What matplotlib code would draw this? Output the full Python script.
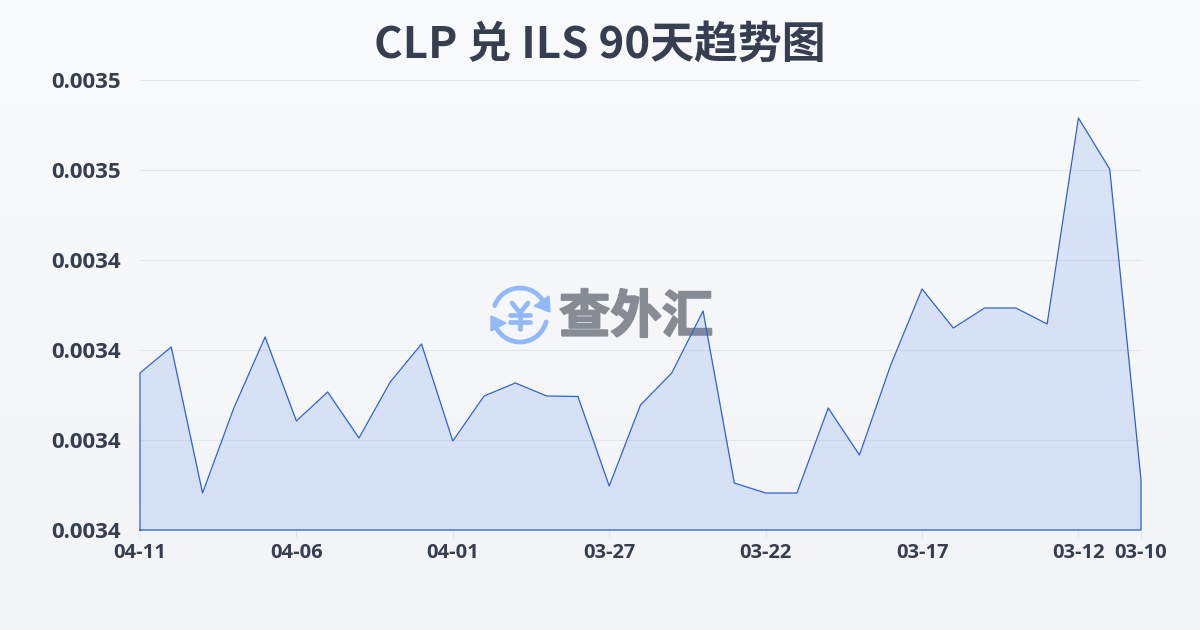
import matplotlib
matplotlib.use("Agg")
import matplotlib.pyplot as plt
import matplotlib.patheffects as pe
import numpy as np
from matplotlib.patches import Arc, Polygon

plt.rcParams["font.family"] = ["Noto Sans CJK SC", "DejaVu Sans"]

dates = ["04-11", "04-10", "04-09", "04-08", "04-07", "04-06", "04-05", "04-04", "04-03",
         "04-02", "04-01", "03-31", "03-30", "03-29", "03-28", "03-27", "03-26", "03-25",
         "03-24", "03-23", "03-22", "03-21", "03-20", "03-19", "03-18", "03-17", "03-16",
         "03-15", "03-14", "03-13", "03-12", "03-11", "03-10"]
rates = [0.00341489, 0.00342067, 0.00338822, 0.00340711, 0.00342289, 0.00340422, 0.00341067,
         0.00340044, 0.00341289, 0.00342133, 0.00339978, 0.00340978, 0.00341267, 0.00340978,
         0.00340967, 0.00338978, 0.00340778, 0.00341489, 0.00342867, 0.00339044, 0.00338822,
         0.00338822, 0.00340711, 0.00339667, 0.00341667, 0.00343356, 0.00342489, 0.00342933,
         0.00342933, 0.00342578, 0.00347156, 0.00346022, 0.00339111]
y_ticks = [0.00338, 0.00340, 0.00342, 0.00344, 0.00346, 0.00348]
x_label_idx = [0, 5, 10, 15, 20, 25, 30, 32]

TEXT = "#353f50"
LINE = "#2f62cc"
ICON = "#93b8f8"

fig = plt.figure(figsize=(12, 6.3), dpi=100)

# page background + watermark, in pixel coords
bg = fig.add_axes([0, 0, 1, 1], zorder=0)
bg.set_xlim(0, 1200)
bg.set_ylim(630, 0)
bg.axis("off")
grad = np.linspace(0, 1, 256).reshape(-1, 1)
top = np.array([0xf8, 0xfa, 0xfc]) / 255
bottom = np.array([0xf2, 0xf4, 0xf7]) / 255
bg.imshow(top + (bottom - top) * grad[..., None], extent=[0, 1200, 630, 0], aspect="auto")

# logo: two arrows round a yen sign (y axis is flipped here, so arc angles run clockwise)
cx, cy = 520, 315
bg.add_patch(Arc((cx, cy), 54, 54, theta1=200, theta2=328, color=ICON, lw=3.4, capstyle="round"))
bg.add_patch(Arc((cx, cy), 54, 54, theta1=15, theta2=150, color=ICON, lw=3.4, capstyle="round"))
bg.add_patch(Polygon([(549, 296), (550, 312), (534, 306)], color=ICON))
bg.add_patch(Polygon([(491, 316), (491, 331), (506, 323)], color=ICON))
yen_strokes = [[(512, 303), (520, 313), (528, 303)], [(510, 315), (530, 315)],
               [(510, 322), (530, 322)], [(520, 313), (520, 329)]]
for stroke in yen_strokes:
    xs, ys = zip(*stroke)
    bg.plot(xs, ys, color=ICON, lw=3.4, solid_capstyle="round", solid_joinstyle="round")
bg.set_xlim(0, 1200)
bg.set_ylim(630, 0)
wm = bg.text(636, 317, "查外汇", color="#868b94", fontsize=37, fontweight=900, ha="center", va="center")
wm.set_path_effects([pe.withStroke(linewidth=1.4, foreground="#868b94")])

bg.text(600, 45, "CLP 兑 ILS 90天趋势图", color=TEXT, fontsize=31.6, fontweight="bold",
        ha="center", va="center")

ax = fig.add_axes([140 / 1200, 100 / 630, 1001 / 1200, 450 / 630], zorder=1)
ax.patch.set_alpha(0)
x = np.arange(len(rates))
ax.set_xlim(0, len(rates) - 1)
ax.set_ylim(y_ticks[0], y_ticks[-1])

ax.fill_between(x, rates, y_ticks[0], color="#4a7de8", alpha=0.17, lw=0, zorder=2)
# closed outline: the line runs down to the base at both ends
ax.plot(np.r_[x[0], x, x[-1], x[0]], np.r_[y_ticks[0], rates, y_ticks[0], y_ticks[0]],
        color=LINE, lw=0.9, zorder=3, clip_on=False)

ax.set_yticks(y_ticks)
ax.set_yticklabels([f"{v:.4f}" for v in y_ticks],
                   fontsize=16, fontweight="bold", color=TEXT, family=["Open Sans"])
for lab in ax.get_yticklabels():
    lab.set_y(lab.get_position()[1])
ax.set_xticks(x_label_idx)
ax.set_xticklabels([dates[i] for i in x_label_idx], fontsize=14.5, fontweight="bold", color=TEXT,
                   family=["Open Sans"])
ax.tick_params(axis="y", length=0, pad=14)
ax.tick_params(axis="x", length=6, width=0.8, color="#e3e6eb", pad=3)
ax.grid(axis="y", color="#e3e6eb", lw=0.8, zorder=1)
ax.set_axisbelow(True)
for s in ax.spines.values():
    s.set_visible(False)

fig.savefig("out.png", dpi=100)
